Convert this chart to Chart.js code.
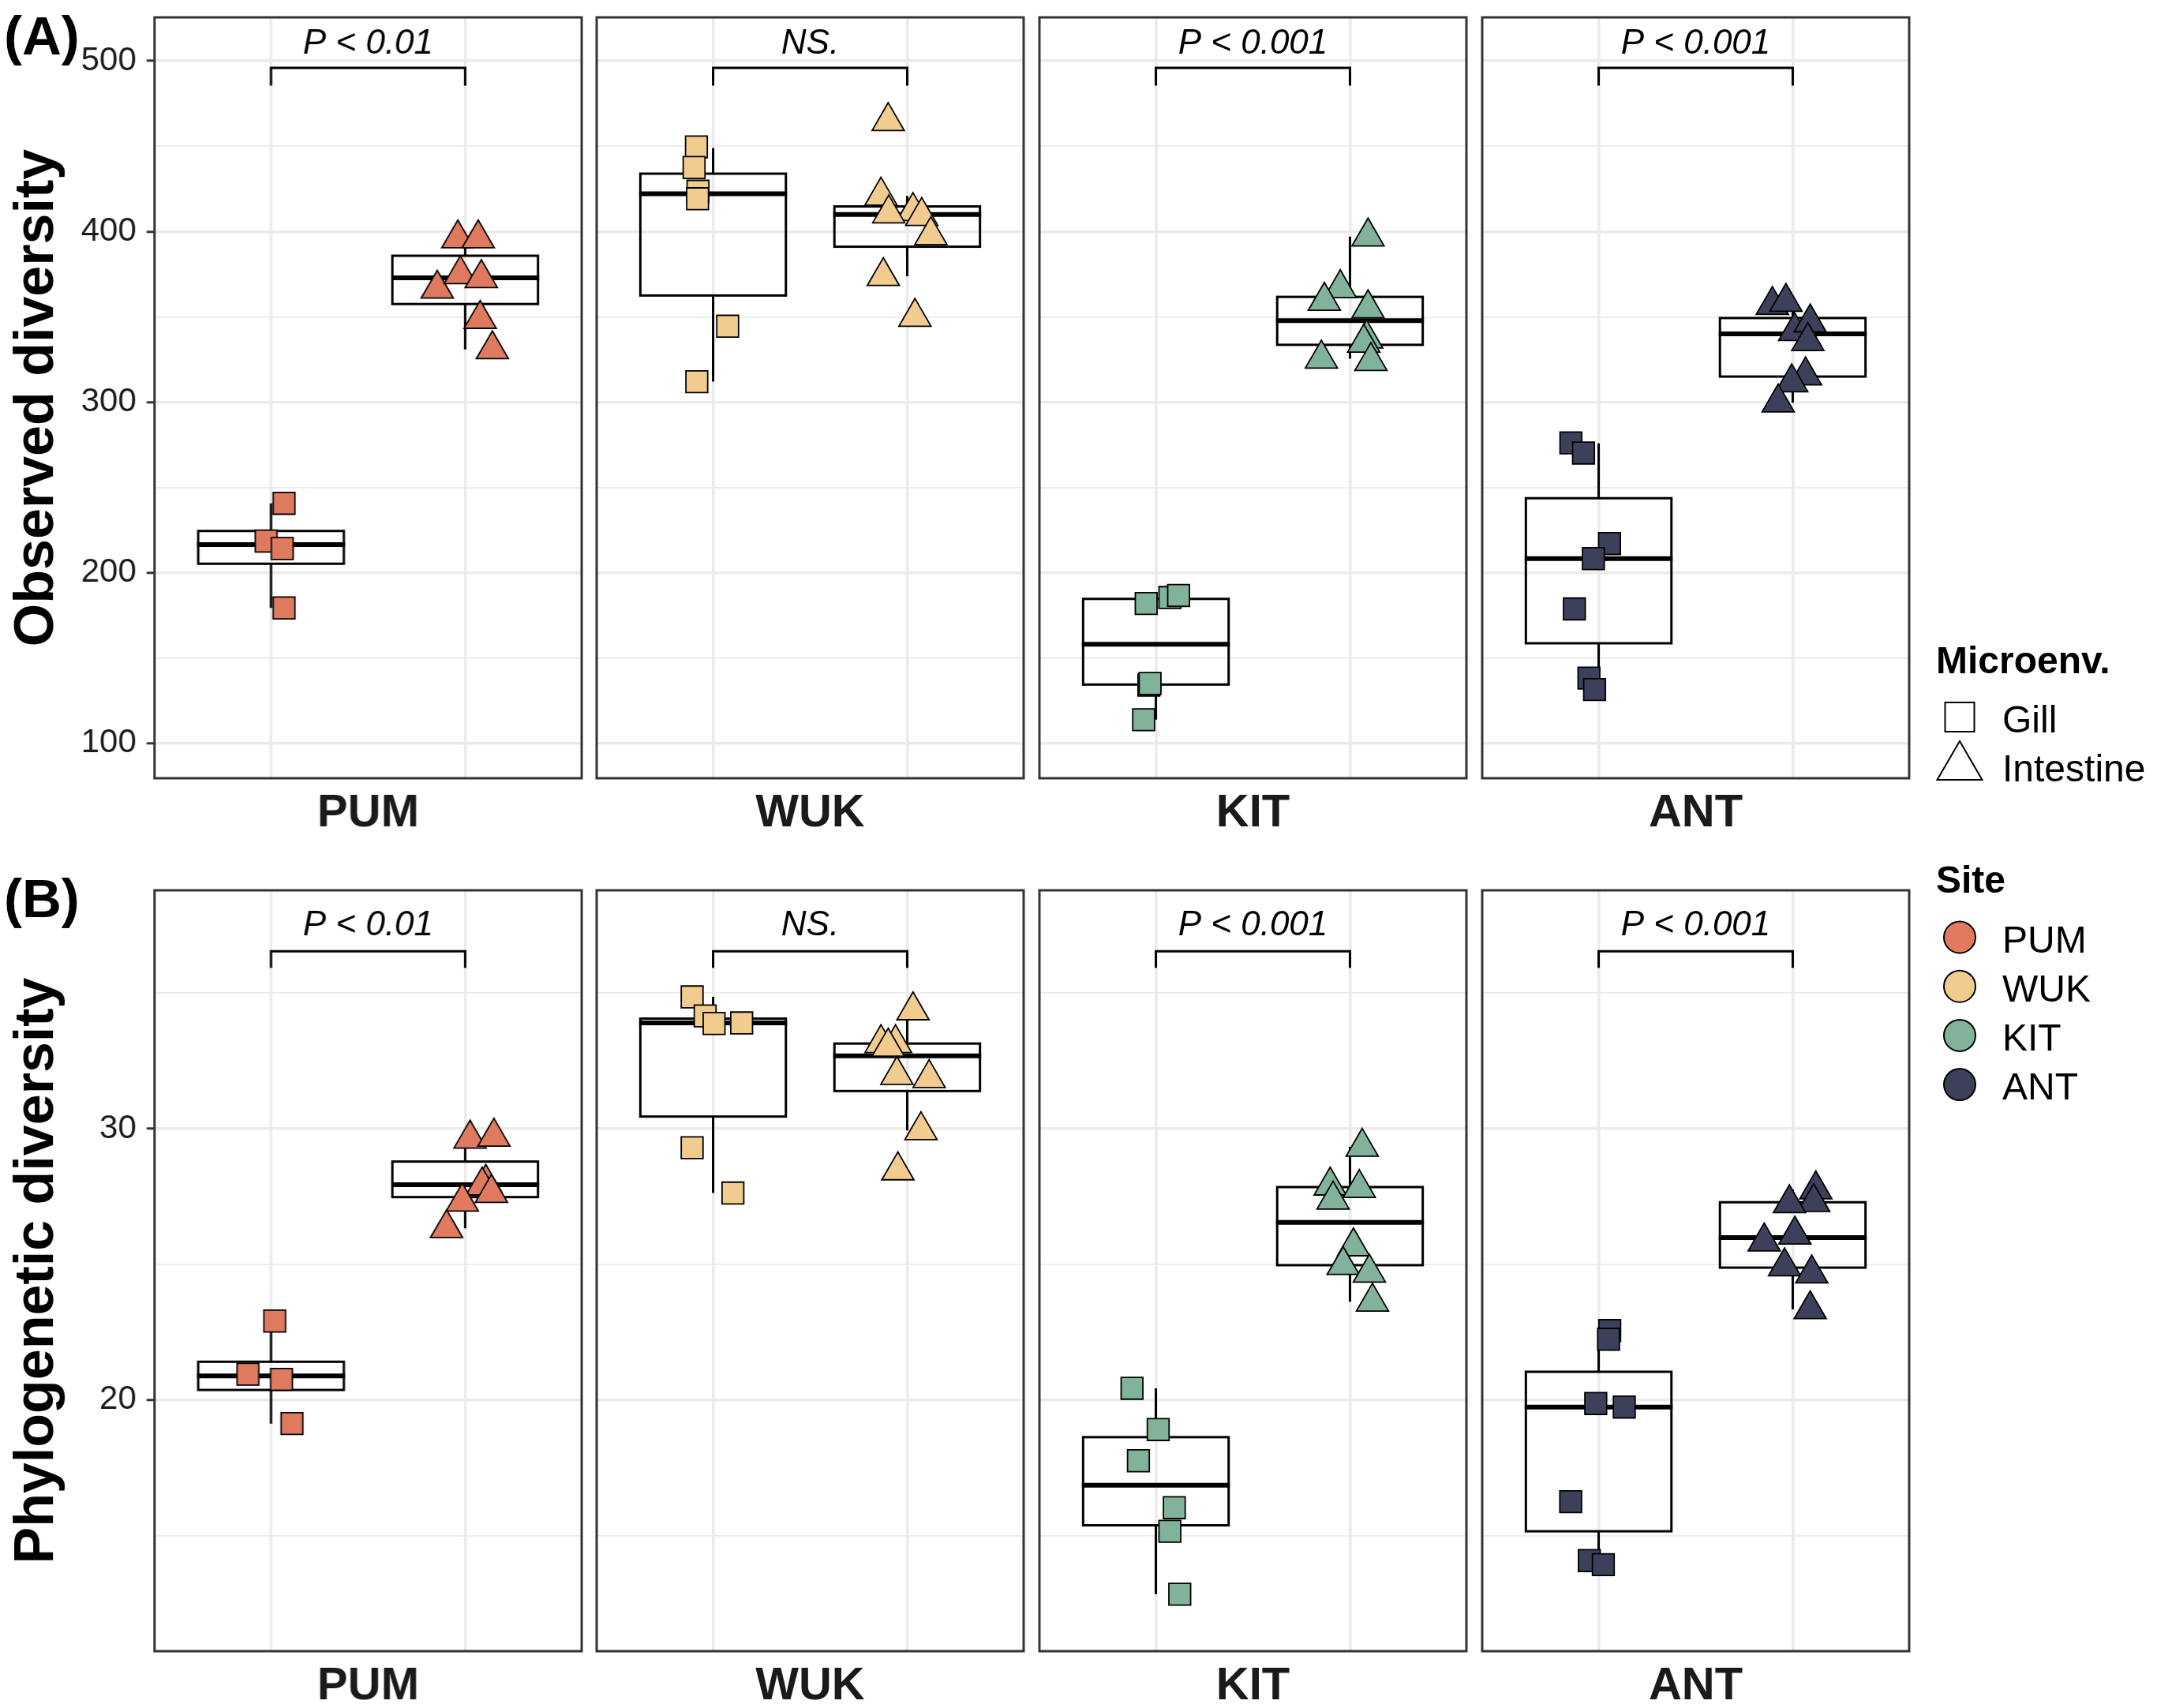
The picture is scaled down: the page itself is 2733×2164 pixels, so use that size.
<!DOCTYPE html>
<html>
<head>
<meta charset="utf-8">
<script src="https://cdn.jsdelivr.net/npm/chart.js@4.4.1/dist/chart.umd.min.js"></script>
<style>
  html, body { margin:0; padding:0; background:#ffffff; width:2733px; height:2164px; overflow:hidden; }
  body { position:relative; }
  canvas { position:absolute; }
  #overlay { position:absolute; left:0; top:0; z-index:5; pointer-events:none; }
</style>
</head>
<body>
<svg id="overlay" width="2733" height="2164" xmlns="http://www.w3.org/2000/svg"
     font-family="'Liberation Sans', Arial, Helvetica, sans-serif">
  <text x="5" y="69" font-size="69" font-weight="bold" fill="#000">(A)</text>
  <text x="5" y="1162" font-size="69" font-weight="bold" fill="#000">(B)</text>
  <g id="legend"></g>
</svg>
<script>
// ---------------- DATA ----------------
const SITES = ['PUM', 'WUK', 'KIT', 'ANT'];
const SITE_COLORS = ['#E07A5F', '#F2CC8F', '#81B29A', '#3D405B'];
const MICROENV = ['Gill', 'Intestine'];
const P_LABELS_OBS = ['P < 0.01', 'NS.', 'P < 0.001', 'P < 0.001'];
const P_LABELS_PHY = ['P < 0.01', 'NS.', 'P < 0.001', 'P < 0.001'];

// (A) Observed diversity — per site values and horizontal jitter (category units)
const OBS_GILL = [
  [240.7, 218.6, 214.2, 179.4],
  [449.6, 437.5, 423.6, 419.2, 344.5, 312.0],
  [182.0, 185.5, 186.7, 134.2, 135.1, 113.9],
  [276.1, 270.2, 217.1, 208.3, 178.8, 138.3, 131.6]
];
const OBS_GILL_JITTER = [
  [0.067, -0.025, 0.058, 0.067],
  [-0.086, -0.098, -0.078, -0.080, 0.075, -0.084],
  [-0.050, 0.072, 0.117, -0.036, -0.030, -0.063],
  [-0.143, -0.078, 0.056, -0.027, -0.125, -0.050, -0.021]
];
const OBS_INT = [
  [395.9, 395.9, 366.4, 374.9, 372.6, 348.7, 330.9],
  [464.6, 420.9, 411.9, 410.5, 409.0, 397.8, 373.8, 349.9],
  [397.0, 366.7, 359.3, 354.9, 337.2, 334.8, 325.4, 324.0],
  [356.9, 358.7, 341.6, 346.6, 335.7, 315.6, 311.5, 299.7]
];
const OBS_INT_JITTER = [
  [-0.038, 0.067, -0.144, -0.025, 0.083, 0.077, 0.140],
  [-0.098, -0.135, 0.030, -0.095, 0.075, 0.122, -0.123, 0.040],
  [0.093, -0.050, -0.132, 0.093, 0.086, 0.071, -0.147, 0.108],
  [-0.105, -0.035, 0.010, 0.090, 0.078, 0.066, -0.005, -0.075]
];
// box stats: [q1, median, q3, whiskerLow, whiskerHigh]
const OBS_BOX_GILL = [
  [205.3, 216.5, 224.5, 179.4, 240.7],
  [362.5, 422.1, 433.9, 312.0, 449.0],
  [134.5, 158.1, 184.7, 113.9, 186.7],
  [158.7, 208.3, 243.7, 131.6, 275.8]
];
const OBS_BOX_INT = [
  [357.5, 372.9, 385.8, 330.9, 395.9],
  [391.1, 410.0, 414.7, 373.8, 420.9],
  [333.6, 347.8, 361.7, 325.4, 397.0],
  [315.0, 340.0, 349.3, 299.7, 358.7]
];
const OBS_TICKS = [100, 150, 200, 250, 300, 350, 400, 450, 500];
const OBS_TICK_LABELS = [100, 200, 300, 400, 500];
const OBS_RANGE = [79.6, 525.5];
const OBS_BRACKET = [495.9, 485.5, 504.2]; // bar, feet, label baseline (data units)

// (B) Phylogenetic diversity
const PHY_GILL = [
  [22.91, 20.95, 20.76, 19.13],
  [34.86, 34.16, 33.88, 33.90, 29.30, 27.63],
  [20.43, 18.91, 17.76, 16.03, 15.16, 12.84],
  [22.56, 22.24, 19.87, 19.74, 16.25, 14.08, 13.93]
];
const PHY_GILL_JITTER = [
  [0.019, -0.119, 0.054, 0.108],
  [-0.108, -0.041, 0.005, 0.147, -0.108, 0.102],
  [-0.123, 0.012, -0.090, 0.095, 0.072, 0.123],
  [0.057, 0.051, -0.015, 0.132, -0.144, -0.048, 0.024]
];
const PHY_INT = [
  [29.63, 29.70, 28.00, 27.90, 27.63, 27.31, 26.33],
  [34.36, 33.15, 33.15, 33.02, 31.98, 31.86, 29.94, 28.46],
  [29.33, 27.90, 27.81, 27.38, 25.66, 24.97, 24.69, 23.62],
  [27.76, 27.29, 27.25, 26.09, 25.84, 24.92, 24.66, 23.34]
];
const PHY_INT_JITTER = [
  [0.025, 0.148, 0.106, 0.087, 0.135, -0.015, -0.096],
  [0.030, -0.135, -0.060, -0.098, -0.053, 0.113, 0.071, -0.048],
  [0.063, -0.102, 0.048, -0.087, 0.018, -0.035, 0.100, 0.116],
  [0.119, 0.108, -0.017, 0.011, -0.147, -0.042, 0.098, 0.090]
];
const PHY_BOX_GILL = [
  [20.37, 20.89, 21.41, 19.13, 22.91],
  [30.45, 33.90, 34.06, 27.63, 34.86],
  [15.38, 16.86, 18.63, 12.84, 20.43],
  [15.16, 19.74, 21.04, 13.93, 22.56]
];
const PHY_BOX_INT = [
  [27.48, 27.94, 28.79, 26.33, 29.70],
  [31.39, 32.69, 33.14, 29.94, 34.36],
  [24.97, 26.55, 27.85, 23.62, 29.33],
  [24.88, 25.99, 27.29, 23.34, 27.76]
];
const PHY_TICKS = [15, 20, 25, 30, 35];
const PHY_TICK_LABELS = [20, 30];
const PHY_RANGE = [10.74, 38.79];
const PHY_BRACKET = [36.54, 35.93, 37.13];

// ---------------- LAYOUT / STYLE ----------------
const FONT = "'Liberation Sans', Arial, Helvetica, sans-serif";
Chart.defaults.font.family = FONT;
const PANEL_LEFT = [195.5, 756, 1317, 1878];
const PANEL_W = 541;
const ROW_TOP = [22, 1128];
const ROW_H = 964;
const PAD = 6;
const XAXIS_H = 100;

const ROWS = [
  { title: 'Observed diversity', gill: OBS_GILL, gj: OBS_GILL_JITTER, int: OBS_INT, ij: OBS_INT_JITTER,
    bg: OBS_BOX_GILL, bi: OBS_BOX_INT, ticks: OBS_TICKS, labels: OBS_TICK_LABELS, range: OBS_RANGE,
    bracket: OBS_BRACKET, p: P_LABELS_OBS },
  { title: 'Phylogenetic diversity', gill: PHY_GILL, gj: PHY_GILL_JITTER, int: PHY_INT, ij: PHY_INT_JITTER,
    bg: PHY_BOX_GILL, bi: PHY_BOX_INT, ticks: PHY_TICKS, labels: PHY_TICK_LABELS, range: PHY_RANGE,
    bracket: PHY_BRACKET, p: P_LABELS_PHY }
];

function makePanelPlugin(boxes, bracket, pLabel) {
  return {
    id: 'panelDeco',
    beforeDatasetsDraw(chart) {
      const { ctx, scales: { x, y } } = chart;
      ctx.save();
      ctx.strokeStyle = '#000';
      boxes.forEach((b, i) => {
        const cx = i + 1;
        const [q1, med, q3, lo, hi] = b;
        const xl = x.getPixelForValue(cx - 0.375);
        const xr = x.getPixelForValue(cx + 0.375);
        const xc = x.getPixelForValue(cx);
        const yq1 = y.getPixelForValue(q1), yq3 = y.getPixelForValue(q3);
        ctx.lineWidth = 3;
        ctx.lineCap = 'butt';
        ctx.beginPath();
        ctx.moveTo(xc, yq3); ctx.lineTo(xc, y.getPixelForValue(hi));
        ctx.moveTo(xc, yq1); ctx.lineTo(xc, y.getPixelForValue(lo));
        ctx.stroke();
        ctx.strokeRect(xl, yq3, xr - xl, yq1 - yq3);
        ctx.lineWidth = 6;
        ctx.beginPath();
        const ym = y.getPixelForValue(med);
        ctx.moveTo(xl - 1.5, ym); ctx.lineTo(xr + 1.5, ym);
        ctx.stroke();
      });
      ctx.restore();
    },
    afterDatasetsDraw(chart) {
      const { ctx, chartArea, scales: { x, y } } = chart;
      ctx.save();
      const x1 = x.getPixelForValue(1), x2 = x.getPixelForValue(2);
      const yb = y.getPixelForValue(bracket[0]), yf = y.getPixelForValue(bracket[1]);
      ctx.strokeStyle = '#000';
      ctx.lineWidth = 3;
      ctx.lineJoin = 'miter';
      ctx.beginPath();
      ctx.moveTo(x1, yf); ctx.lineTo(x1, yb); ctx.lineTo(x2, yb); ctx.lineTo(x2, yf);
      ctx.stroke();
      ctx.fillStyle = '#000';
      ctx.font = 'italic 44px ' + FONT;
      ctx.textAlign = 'center';
      ctx.textBaseline = 'alphabetic';
      ctx.fillText(pLabel, x.getPixelForValue(1.5), y.getPixelForValue(bracket[2]));
      // panel border
      ctx.strokeStyle = '#333333';
      ctx.lineWidth = 3;
      ctx.strokeRect(chartArea.left, chartArea.top, chartArea.right - chartArea.left, chartArea.bottom - chartArea.top);
      ctx.restore();
    }
  };
}

ROWS.forEach((row, r) => {
  SITES.forEach((site, c) => {
    const canvas = document.createElement('canvas');
    const left = c === 0 ? 0 : PANEL_LEFT[c] - PAD;
    const top = ROW_TOP[r] - PAD;
    const width = PANEL_LEFT[c] + PANEL_W + PAD - left;
    const height = PAD + ROW_H + XAXIS_H;
    canvas.width = width; canvas.height = height;
    canvas.style.left = left + 'px'; canvas.style.top = top + 'px';
    canvas.style.width = width + 'px'; canvas.style.height = height + 'px';
    document.body.appendChild(canvas);

    const gillPts = row.gill[c].map((v, i) => ({ x: 1 + row.gj[c][i], y: v }));
    const intPts = row.int[c].map((v, i) => ({ x: 2 + row.ij[c][i], y: v }));
    const isFirst = c === 0;

    new Chart(canvas, {
      type: 'scatter',
      data: {
        datasets: [
          { label: MICROENV[0], data: gillPts, pointStyle: 'rect', pointRadius: 19.5, pointHoverRadius: 19.5,
            backgroundColor: SITE_COLORS[c], borderColor: '#000', borderWidth: 1.8 },
          { label: MICROENV[1], data: intPts, pointStyle: 'triangle', pointRadius: 23.5, pointHoverRadius: 23.5,
            backgroundColor: SITE_COLORS[c], borderColor: '#000', borderWidth: 1.8 }
        ]
      },
      options: {
        responsive: false,
        animation: false,
        devicePixelRatio: 1,
        events: [],
        layout: { autoPadding: false, padding: { top: PAD, right: PAD, bottom: 0, left: isFirst ? 0 : PAD } },
        plugins: { legend: { display: false }, tooltip: { enabled: false } },
        scales: {
          x: {
            type: 'linear', min: 0.4, max: 2.6,
            afterBuildTicks: s => { s.ticks = [{ value: 1 }, { value: 2 }]; },
            ticks: { display: false },
            grid: { color: '#EBEBEB', lineWidth: 3.6, drawTicks: false },
            border: { display: false },
            title: { display: true, text: site, color: '#1A1A1A',
                     font: { family: FONT, size: 58, weight: 'bold' }, padding: { top: 0, bottom: 20.5 } },
            afterFit: s => { s.height = XAXIS_H; s.paddingLeft = 0; s.paddingRight = 0; }
          },
          y: {
            type: 'linear', min: row.range[0], max: row.range[1],
            afterBuildTicks: s => { s.ticks = row.ticks.map(v => ({ value: v })); },
            ticks: {
              display: isFirst,
              padding: 13,
              color: '#1A1A1A',
              font: { family: FONT, size: 42 },
              callback: v => row.labels.includes(v) ? String(v) : ''
            },
            grid: {
              color: '#EBEBEB',
              lineWidth: ctx => row.labels.includes(ctx.tick.value) ? 3.6 : 1.8,
              drawTicks: isFirst,
              tickLength: 10,
              tickWidth: 3,
              tickColor: ctx => row.labels.includes(ctx.tick.value) ? '#333333' : 'rgba(0,0,0,0)'
            },
            border: { display: false },
            title: { display: isFirst, text: row.title, color: '#000',
                     font: { family: FONT, size: 70, weight: 'bold' }, padding: { top: 6, bottom: 0 } },
            afterFit: s => { s.width = isFirst ? PANEL_LEFT[0] : 0; s.paddingTop = 0; s.paddingBottom = 0; }
          }
        }
      },
      plugins: [makePanelPlugin([row.bg[c], row.bi[c]], row.bracket, row.p[c])]
    });
  });
});

// ---------------- LEGEND (SVG) ----------------
(function buildLegend() {
  const ns = 'http://www.w3.org/2000/svg';
  const g = document.getElementById('legend');
  function el(tag, attrs, text) {
    const e = document.createElementNS(ns, tag);
    for (const k in attrs) e.setAttribute(k, attrs[k]);
    if (text !== undefined) e.textContent = text;
    g.appendChild(e);
    return e;
  }
  const LX = 2453, KX = 2483, TX = 2537;
  el('text', { x: LX, y: 853, 'font-size': 48, 'font-weight': 'bold', fill: '#000' }, 'Microenv.');
  // Gill key
  el('rect', { x: KX - 18.5, y: 890, width: 37, height: 37, fill: 'none', stroke: '#000', 'stroke-width': 2 });
  el('text', { x: TX, y: 928, 'font-size': 48, fill: '#000' }, MICROENV[0]);
  // Intestine key
  el('polygon', { points: `${KX},939 ${KX + 28.5},988 ${KX - 28.5},988`, fill: 'none', stroke: '#000', 'stroke-width': 2 });
  el('text', { x: TX, y: 990, 'font-size': 48, fill: '#000' }, MICROENV[1]);
  // Site
  el('text', { x: LX, y: 1131, 'font-size': 48, 'font-weight': 'bold', fill: '#000' }, 'Site');
  SITES.forEach((s, i) => {
    const cy = 1187.5 + i * 62.2;
    el('circle', { cx: KX, cy: cy, r: 20, fill: SITE_COLORS[i], stroke: '#000', 'stroke-width': 2 });
    el('text', { x: TX, y: cy + 19, 'font-size': 48, fill: '#000' }, s);
  });
})();
</script>
</body>
</html>
